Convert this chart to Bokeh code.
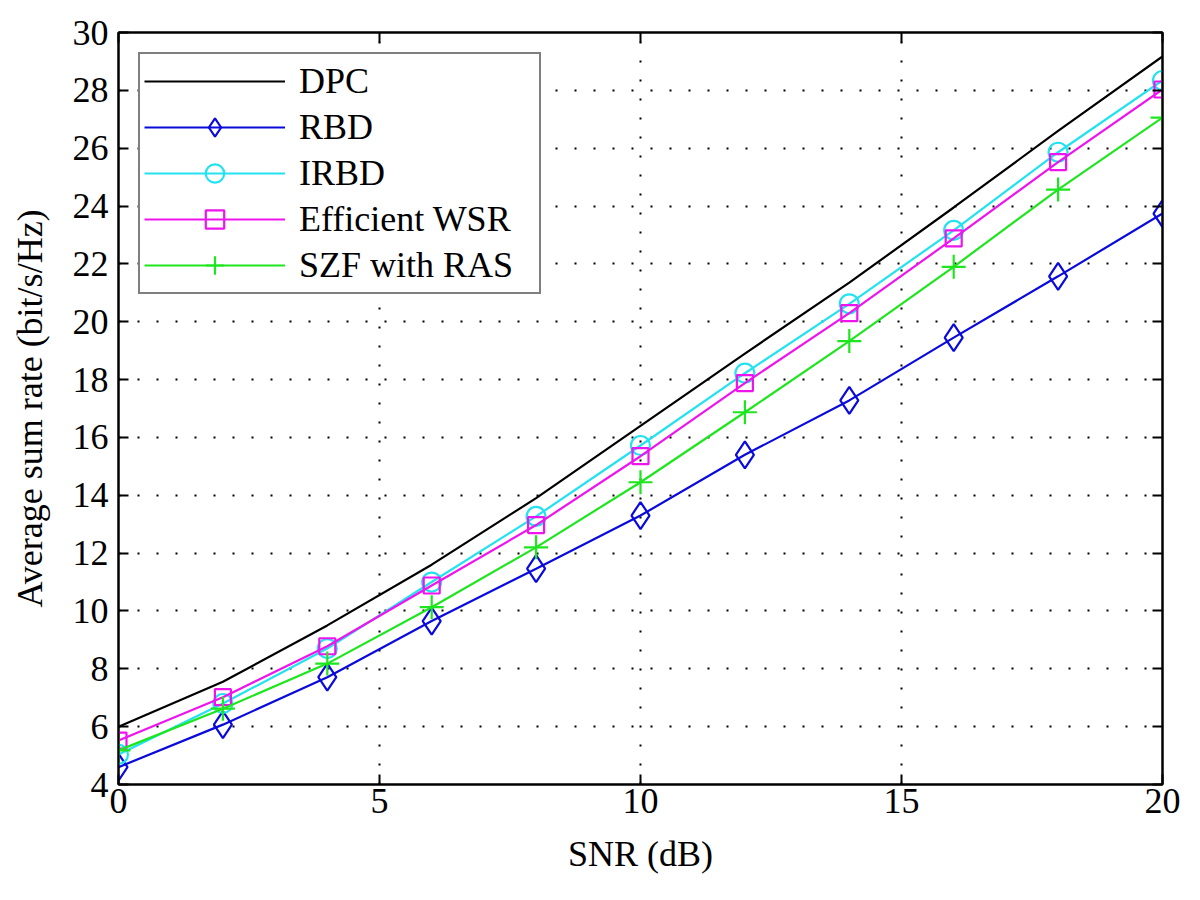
from bokeh.plotting import figure
from bokeh.models import FixedTicker, LinearAxis, Range1d
from bokeh.embed import file_html
from bokeh.resources import INLINE

snr = [0, 2, 4, 6, 8, 10, 12, 14, 16, 18, 20]
dpc = [6.0, 7.55, 9.5, 11.6, 13.9, 16.4, 18.9, 21.35, 23.95, 26.6, 29.17]
rbd = [4.6, 6.07, 7.71, 9.65, 11.46, 13.3, 15.4, 17.28, 19.45, 21.57, 23.74]
irbd = [5.04, 6.8, 8.7, 11.0, 13.27, 15.72, 18.22, 20.62, 23.16, 25.86, 28.34]
wsr = [5.52, 7.02, 8.78, 10.88, 12.97, 15.35, 17.88, 20.3, 22.88, 25.52, 28.03]
szf = [5.18, 6.62, 8.18, 10.13, 12.2, 14.45, 16.87, 19.33, 21.9, 24.57, 27.06]

x_ticks = [0, 5, 10, 15, 20]
y_ticks = list(range(4, 31, 2))

FONT = "'Liberation Serif', 'Times New Roman', serif"
FS = "36px"

p = figure(frame_width=1044, frame_height=752, output_backend="svg", toolbar_location=None,
           x_range=Range1d(0, 20), y_range=Range1d(4, 30),
           min_border_left=118, min_border_top=32, min_border_right=22, min_border_bottom=100,
           x_axis_label="SNR (dB)", y_axis_label="Average sum rate (bit/s/Hz)")

p.outline_line_color = "black"
p.outline_line_width = 2

for ax in (p.xaxis[0], p.yaxis[0]):
    ax.axis_line_width = 2
    ax.axis_line_color = "black"
    ax.major_tick_in = 10
    ax.major_tick_out = 0
    ax.minor_tick_line_color = None
    ax.major_tick_line_width = 2
    ax.major_label_text_font = FONT
    ax.major_label_text_font_size = FS
    ax.major_label_text_color = "black"
    ax.axis_label_text_font = FONT
    ax.axis_label_text_font_size = FS
    ax.axis_label_text_font_style = "normal"
    ax.axis_label_text_color = "black"

p.xaxis[0].ticker = FixedTicker(ticks=x_ticks)
p.yaxis[0].ticker = FixedTicker(ticks=y_ticks)
p.xaxis[0].major_label_standoff = 4
p.yaxis[0].major_label_standoff = 10
p.xaxis[0].axis_label_standoff = 18
p.yaxis[0].axis_label_standoff = 20

top = LinearAxis(ticker=FixedTicker(ticks=x_ticks))
right = LinearAxis(ticker=FixedTicker(ticks=y_ticks))
for ax in (top, right):
    ax.major_tick_in = 10
    ax.major_tick_out = 0
    ax.major_tick_line_width = 2
    ax.minor_tick_line_color = None
    ax.axis_line_width = 2
    ax.major_label_text_color = None
    ax.major_label_standoff = 0
p.add_layout(top, "above")
p.add_layout(right, "right")

for g in (p.xgrid[0], p.ygrid[0]):
    g.grid_line_color = "black"
    g.grid_line_dash = "2 17"
    g.grid_line_width = 2
p.xgrid[0].ticker = FixedTicker(ticks=x_ticks)
p.ygrid[0].ticker = FixedTicker(ticks=y_ticks)

LW = 2.2
p.line(snr, dpc, color="black", line_width=LW, legend_label="DPC")

p.line(snr, rbd, color="#0A0ADC", line_width=LW, legend_label="RBD")
p.scatter(snr, rbd, marker="diamond", size=27, fill_color=None, line_color="#0A0ADC",
          line_width=2.2, legend_label="RBD")

p.line(snr, irbd, color="#22E2F0", line_width=LW, legend_label="IRBD")
p.scatter(snr, irbd, marker="circle", size=19, fill_color=None, line_color="#22E2F0",
          line_width=2.2, legend_label="IRBD")

p.line(snr, wsr, color="#EE14EE", line_width=LW, legend_label="Efficient WSR")
p.scatter(snr, wsr, marker="square", size=16, fill_color=None, line_color="#EE14EE",
          line_width=2.2, legend_label="Efficient WSR")

p.line(snr, szf, color="#1EE61E", line_width=LW, legend_label="SZF with RAS")
p.scatter(snr, szf, marker="cross", size=24, line_color="#1EE61E",
          line_width=2.2, legend_label="SZF with RAS")

lg = p.legend[0]
lg.location = "top_left"
lg.margin = 20
lg.padding = 4
lg.spacing = 0
lg.glyph_width = 141
lg.glyph_height = 46
lg.label_height = 36
lg.label_width = 236
lg.label_standoff = 14
lg.label_text_font = FONT
lg.label_text_font_size = FS
lg.label_text_color = "black"
lg.border_line_color = "black"
lg.border_line_width = 2
lg.background_fill_alpha = 1

open("out.html", "w").write(file_html(p, INLINE))
